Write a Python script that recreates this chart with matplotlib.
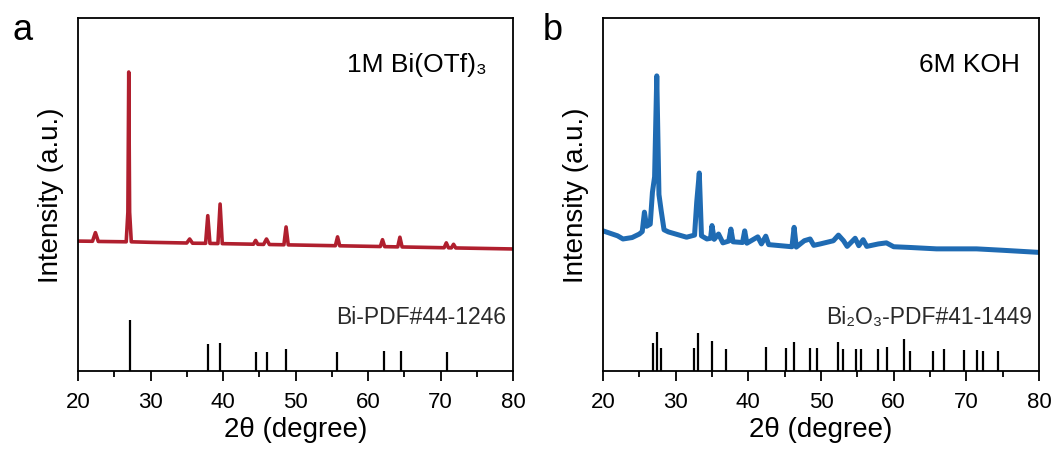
import matplotlib
matplotlib.use("Agg")
import matplotlib.pyplot as plt
from matplotlib.ticker import MultipleLocator

plt.rcParams['font.family'] = ['Liberation Sans', 'DejaVu Sans']

# ---------------- data ----------------
# Panel a: measured XRD pattern, 1M Bi(OTf)3
a_two_theta = [20, 22.0, 22.4, 22.8, 26.65, 26.88, 27.0, 27.12, 27.35, 30, 35.0, 35.4, 35.8,
               37.6, 37.9, 38.2, 39.3, 39.6, 39.9, 44.2, 44.5, 44.8, 45.6, 46.0, 46.4,
               48.4, 48.7, 49.0, 55.5, 55.8, 56.1, 61.7, 62.0, 62.3, 64.1, 64.4, 64.7,
               70.5, 70.8, 71.1, 71.5, 71.8, 72.1, 80]
a_intensity = [36.8, 36.75, 39.2, 36.7, 36.6, 45.0, 84.7, 45.0, 36.6, 36.45, 36.26, 37.4, 36.2,
               36.17, 44.0, 36.14, 36.1, 47.3, 36.08, 35.92, 37.0, 35.9, 35.86, 37.4, 35.83,
               35.76, 40.8, 35.73, 35.49, 38.0, 35.47, 35.26, 37.2, 35.23, 35.16, 37.9, 35.14,
               34.92, 36.3, 34.9, 34.88, 35.9, 34.86, 34.57]

# Panel a: reference pattern Bi-PDF#44-1246
a_ref_pos = [27.2, 37.9, 39.6, 44.55, 46.0, 48.7, 55.7, 62.2, 64.5, 70.85]
a_ref_int = [14.4, 7.6, 7.8, 5.5, 5.5, 6.2, 5.5, 5.7, 5.7, 5.4]

# Panel b: measured XRD pattern, 6M KOH
b_two_theta = [20, 21, 22, 22.75, 24, 25, 25.4, 25.7, 26.0, 26.5, 26.8, 27.1, 27.4, 27.7, 28.0,
               28.4, 29, 31.5, 32.6, 32.9, 33.25, 33.55, 34.3, 34.8, 35.0, 35.3, 35.9, 36.5,
               37.3, 37.6, 37.9, 39.2, 39.5, 39.8, 41.3, 41.8, 42.4, 42.8, 46.0, 46.3, 46.6,
               47.7, 48.5, 49.0, 49.9, 51.7, 52.4, 53.1, 53.6, 54.7, 55.2, 55.8, 56.3, 57.9,
               59.0, 60, 62.2, 65.9, 71.4, 75, 80]
b_intensity = [39.7, 39.0, 38.3, 37.4, 37.8, 38.8, 39.5, 45.0, 41.0, 41.6, 50.6, 55.0, 83.6, 50.0,
               45.5, 40.0, 39.4, 37.9, 38.5, 47.9, 56.1, 38.3, 37.4, 37.6, 41.2, 37.3, 38.8,
               36.3, 36.8, 40.2, 36.6, 36.4, 39.7, 36.2, 38.0, 36.0, 38.2, 35.8, 35.2, 40.7,
               35.1, 36.9, 37.4, 35.6, 36.0, 36.9, 38.5, 36.9, 35.3, 37.6, 35.5, 37.2, 35.3,
               36.0, 36.3, 35.2, 35.0, 34.6, 34.6, 34.2, 33.6]

# Panel b: reference pattern Bi2O3-PDF#41-1449
b_ref_pos = [26.93, 27.39, 27.98, 32.52, 33.03, 35.04, 36.93, 42.39, 45.14, 46.33, 48.49,
             49.5, 52.38, 53.07, 54.77, 55.46, 57.88, 59.04, 61.47, 62.25, 65.37, 66.93,
             69.68, 71.42, 72.34, 74.4]
b_ref_int = [8.0, 11.1, 6.4, 6.4, 10.7, 8.5, 6.2, 6.9, 6.4, 8.3, 6.4, 6.4, 8.3, 6.2, 6.2,
             6.2, 6.2, 6.7, 9.0, 5.8, 5.8, 6.1, 5.9, 5.9, 5.8, 5.8]

panel_letters = ["a", "b"]
sample_labels = ["1M Bi(OTf)\u2083", "6M KOH"]
ref_labels = ["Bi-PDF#44-1246", "Bi\u2082O\u2083-PDF#41-1449"]
x_ticks = [20, 30, 40, 50, 60, 70, 80]

curve_colors = ["#B01F2E", "#1F6BB3"]

# ---------------- figure ----------------
fig = plt.figure(figsize=(10.59, 4.52), dpi=100)
axes_pos = [[78 / 1059, 80 / 452, 435 / 1059, 353 / 452],
            [603 / 1059, 80 / 452, 436 / 1059, 353 / 452]]

datasets = [(a_two_theta, a_intensity, a_ref_pos, a_ref_int),
            (b_two_theta, b_intensity, b_ref_pos, b_ref_int)]
lws = [2.6, 3.6]

for i, (tt, inten, rp, ri) in enumerate(datasets):
    ax = fig.add_axes(axes_pos[i])
    ax.plot(tt, inten, color=curve_colors[i], lw=lws[i], solid_joinstyle='round')
    ax.vlines(rp, 0, ri, color='black', lw=1.6)
    ax.set_xlim(20, 80)
    ax.set_ylim(0, 100)
    ax.set_xticks(x_ticks)
    ax.xaxis.set_minor_locator(MultipleLocator(5))
    ax.set_yticks([])
    ax.tick_params(axis='x', which='major', direction='out', length=7.5, width=1.3,
                   labelsize=16, pad=7, top=False)
    ax.tick_params(axis='x', which='minor', direction='out', length=4.5, width=1.3, top=False)
    for s in ax.spines.values():
        s.set_linewidth(1.3)
    ax.set_xlabel("2\u03b8 (degree)", fontsize=20, labelpad=3)
    ax.set_ylabel("Intensity (a.u.)", fontsize=20, labelpad=10)
    ax.text(0.94 if i == 0 else 0.955, 0.87, sample_labels[i], transform=ax.transAxes,
            ha='right', va='center', fontsize=19)
    ax.text(0.985, 0.155, ref_labels[i], transform=ax.transAxes,
            ha='right', va='center', fontsize=16.5, color='#2a2a2a')

fig.text(12 / 1059, 1 - 30 / 452, panel_letters[0], fontsize=26, ha='left', va='center')
fig.text(543 / 1059, 1 - 30 / 452, panel_letters[1], fontsize=26, ha='left', va='center')

fig.savefig("out.png", dpi=100, facecolor='white')
